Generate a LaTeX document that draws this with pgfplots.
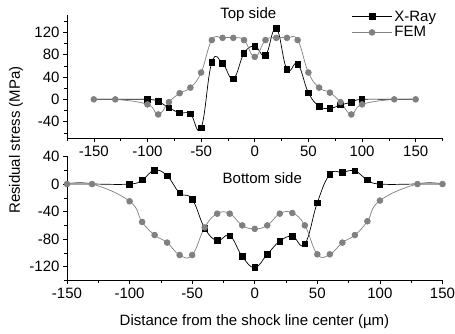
\documentclass[border=0pt]{standalone}
\usepackage{fontspec}
\setmainfont{Liberation Sans}
\usepackage{pgfplots}
\pgfplotsset{compat=1.18}
\definecolor{femgray}{RGB}{128,128,128}
\begin{document}
\begin{tikzpicture}[font=\fontsize{15}{17.5}\selectfont]
\useasboundingbox (-67pt,-53.5pt) rectangle (388pt,280.5pt);
\pgfplotsset{
  every axis/.append style={
    scale only axis, width=375.5pt,
    axis x line=bottom, axis y line=left,
    axis line style={-, line width=0.6pt},
    tick align=outside, major tick length=4pt, minor tick length=2.5pt,
    every tick/.style={line width=0.6pt, black},
    tick label style={font=\fontsize{15}{17.5}\selectfont},
    clip=false,
  },
  xr/.style={black, line width=0.7pt, smooth, tension=0.75, mark=square*, mark size=2.8pt, mark options={solid}},
  fem/.style={femgray, line width=0.7pt, smooth, tension=0.75, mark=*, mark size=2.9pt, mark options={solid}},
}
% ---------- bottom panel ----------
\begin{axis}[
  at={(0pt,0pt)}, height=124pt,
  xmin=-150, xmax=150, ymin=-140, ymax=40,
  xtick={-150,-100,-50,0,50,100,150},
  xticklabels={-150,-100,-50,0,50,100,150},
  minor xtick={-125,-75,-25,25,75,125},
  ytick={-120,-80,-40,0,40},
  yticklabels={-120,-80,-40,0,40},
  minor ytick={-140,-100,-60,-20,20},
]
\addplot[xr, mark indices={3,4,5,6,7,8,9,10,11,12,13,14,15,16,17,18,19,20,21,22,23}] coordinates {
(-150,0)(-130,0)(-100,0)(-90,6)(-80,20)(-70,12)(-60,-13)(-50,-22)(-40,-64)(-30,-82)(-20,-75)(-10,-105)(0,-121)(10,-102)(20,-83)(30,-76)(40,-87)(50,-27)(60,14)(70,17)(80,19)(90,6)(100,0)(130,0)(150,0)};
\addplot[fem] coordinates {
(-150,0)(-130,0)(-100,-25)(-90,-55)(-80,-74)(-70,-85)(-60,-103)(-50,-103)(-40,-63)(-30,-43)(-20,-43)(-10,-60)(0,-65)(10,-60)(20,-43)(30,-42)(40,-60)(50,-102)(60,-102)(70,-85)(80,-74)(90,-54)(100,-24)(130,0)(150,0)};
\node at (axis cs:6,9) {Bottom side};
\end{axis}
% ---------- top panel ----------
\begin{axis}[
  at={(0pt,142pt)}, height=123pt,
  xmin=-175, xmax=175, ymin=-70, ymax=150,
  xtick={-150,-100,-50,0,50,100,150},
  xticklabels={-150,-100,-50,0,50,100,150},
  minor xtick={-175,-125,-75,-25,25,75,125,175},
  ytick={-40,0,40,80,120},
  yticklabels={-40,0,40,80,120},
  minor ytick={-60,-20,20,60,100,140},
  legend style={draw=none, fill=none, at={(0.755,1.065)}, anchor=north west,
    font=\fontsize{15}{17.5}\selectfont, row sep=0pt, inner sep=1pt},
  legend cell align=left,
  legend image code/.code={
    \draw[#1, mark=none] (0pt,0pt) -- (40pt,0pt);
    \draw[#1, only marks] plot coordinates {(20pt,0pt)};
  },
]
\addlegendimage{xr}
\addlegendentry{X-Ray}
\addlegendimage{fem}
\addlegendentry{FEM}
\addplot[xr, forget plot, mark indices={3,4,5,6,7,8,9,10,11,12,13,14,15,16,17,18,19,20,21,22,23}] coordinates {
(-150,0)(-130,0)(-100,0)(-90,-4)(-80,-15)(-70,-24)(-60,-26)(-50,-51)(-40,66)(-30,64)(-20,37)(-10,82)(0,95)(10,79)(20,127)(30,54)(40,63)(50,12)(60,-12)(70,-16)(80,-10)(90,-5)(100,0)(130,0)(150,0)};
\addplot[fem, forget plot] coordinates {
(-150,0)(-130,0)(-100,-9)(-90,-27)(-80,-5)(-70,11)(-60,21)(-50,48)(-40,106)(-30,110)(-20,110)(-10,106)(0,76)(10,106)(20,110)(30,110)(40,106)(50,48)(60,21)(70,12)(80,-5)(90,-27)(100,-9)(130,0)(150,0)};
\node at (axis cs:-6,152) {Top side};
\end{axis}
\node[rotate=90] at (-51pt,140.5pt) {Residual stress (MPa)};
\node at (187.5pt,-41.5pt) {Distance from the shock line center (µm)};
\end{tikzpicture}
\end{document}
